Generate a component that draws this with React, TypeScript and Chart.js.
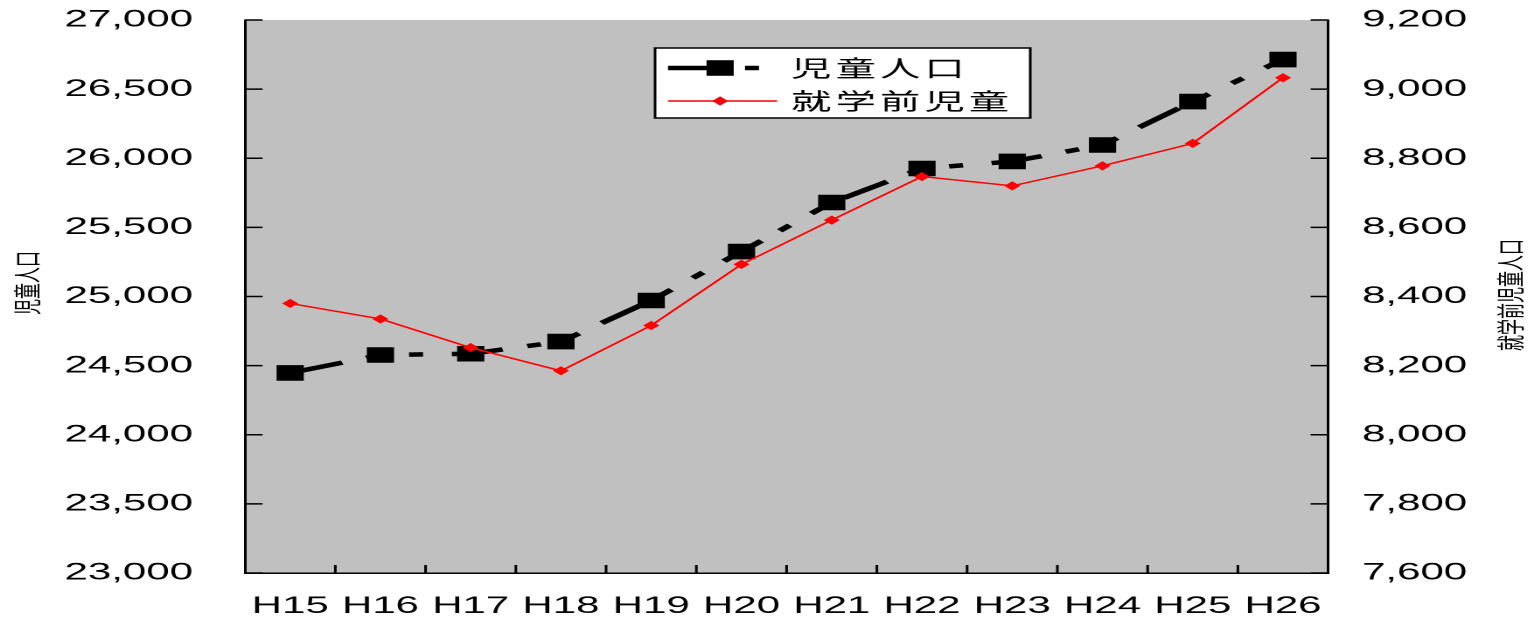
import React, { useEffect, useRef } from 'react';
import { Chart, registerables } from 'chart.js';

Chart.register(...registerables);

// 年度ラベル
const years = ['H15', 'H16', 'H17', 'H18', 'H19', 'H20', 'H21', 'H22', 'H23', 'H24', 'H25', 'H26'];
// 児童人口（左軸）
const childPopulation = [24447, 24577, 24586, 24674, 24971, 25325, 25680, 25926, 25977, 26096, 26410, 26714];
// 就学前児童（右軸）
const preschoolChildren = [8380, 8335, 8252, 8185, 8316, 8493, 8621, 8747, 8720, 8778, 8843, 9033];

const seriesNames = ['児童人口', '就学前児童'];
const leftTitle = '児童人口';
const rightTitle = '就学前児童人口';

const leftRange = [23000, 27000, 500];
const rightRange = [7600, 9200, 200];

// The chart is drawn on a narrow canvas and stretched horizontally.
const CANVAS_W = 877;
const CANVAS_H = 618;
const STRETCH = 1534 / CANVAS_W;

const PLOT_TOP = 20;
const PLOT_BOTTOM = 573;

const LATIN = "'Liberation Sans', Arial, sans-serif";
const CJK = "'Noto Sans CJK JP', 'Noto Sans CJK SC', sans-serif";

const longDashDotDot = [29.5, 14.5, 8, 17, 8, 16.5];

const fmt = (v: number) => Number(v).toLocaleString('en-US');

const decorations = {
  id: 'decorations',
  beforeDraw(chart: any) {
    const { ctx, chartArea: a } = chart;
    ctx.save();
    ctx.fillStyle = '#c0c0c0';
    ctx.fillRect(a.left, a.top, a.right - a.left, a.bottom - a.top);
    ctx.restore();
  },
  beforeDatasetsDraw(chart: any) {
    const { ctx, chartArea: a, scales } = chart;
    ctx.save();
    ctx.strokeStyle = '#000';
    ctx.lineWidth = 1.5;
    ctx.beginPath();
    // inward tick marks on the value axes
    scales.yLeft.ticks.forEach((t: any) => {
      const y = scales.yLeft.getPixelForValue(t.value);
      ctx.moveTo(a.left, y);
      ctx.lineTo(a.left + 10, y);
    });
    scales.yRight.ticks.forEach((t: any) => {
      const y = scales.yRight.getPixelForValue(t.value);
      ctx.moveTo(a.right, y);
      ctx.lineTo(a.right - 10, y);
    });
    // category boundary ticks on the x axis
    const x = scales.x;
    for (let i = 1; i < years.length; i++) {
      const px = (x.getPixelForValue(i - 1) + x.getPixelForValue(i)) / 2;
      ctx.moveTo(px, a.bottom);
      ctx.lineTo(px, a.bottom - 8);
    }
    ctx.stroke();
    ctx.restore();
  },
  afterDraw(chart: any) {
    const { ctx } = chart;
    const ds = chart.data.datasets;

    // axis titles, read bottom to top
    const drawTitle = (text: string, cx: number, cy: number) => {
      ctx.save();
      ctx.fillStyle = '#000';
      ctx.font = `16px ${CJK}`;
      ctx.textAlign = 'center';
      ctx.textBaseline = 'middle';
      ctx.translate(cx, cy);
      ctx.rotate(-Math.PI / 2);
      ctx.fillText(text, 0, 0);
      ctx.restore();
    };
    drawTitle(leftTitle, 15.2, 283);
    drawTitle(rightTitle, 863.6, 295);

    // legend box
    const box = { left: 374.5, top: 48, right: 589, bottom: 118 };
    ctx.save();
    ctx.fillStyle = '#fff';
    ctx.fillRect(box.left, box.top, box.right - box.left, box.bottom - box.top);
    ctx.strokeStyle = '#000';
    ctx.lineWidth = 1.5;
    ctx.strokeRect(box.left, box.top, box.right - box.left, box.bottom - box.top);

    const rows = [68, 101];
    const markerX = 411.7;
    const textX = 452.3;
    ds.forEach((d: any, i: number) => {
      const y = rows[i];
      ctx.save();
      ctx.strokeStyle = d.borderColor;
      ctx.lineWidth = d.borderWidth;
      ctx.setLineDash(d.borderDash || []);
      ctx.beginPath();
      ctx.moveTo(381.9, y);
      ctx.lineTo(i === 0 ? 436.2 : 444.3, y);
      ctx.stroke();
      ctx.restore();

      ctx.fillStyle = d.pointBackgroundColor;
      ctx.beginPath();
      if (d.pointStyle === 'rect') {
        const s = Math.SQRT1_2 * d.pointRadius;
        ctx.rect(markerX - s, y - s, 2 * s, 2 * s);
      } else {
        const r = d.pointRadius;
        ctx.moveTo(markerX, y - r);
        ctx.lineTo(markerX + r, y);
        ctx.lineTo(markerX, y + r);
        ctx.lineTo(markerX - r, y);
        ctx.closePath();
      }
      ctx.fill();

      ctx.fillStyle = '#000';
      ctx.font = `23px ${CJK}`;
      ctx.textAlign = 'left';
      ctx.textBaseline = 'middle';
      Array.from(d.label as string).forEach((ch, k) => {
        ctx.fillText(ch, textX + k * 25.4, y);
      });
    });
    ctx.restore();
  },
};

export default function App() {
  const canvasRef = useRef<HTMLCanvasElement | null>(null);

  useEffect(() => {
    const canvas = canvasRef.current;
    if (!canvas) return;
    const chart = new Chart(canvas, {
      type: 'line',
      data: {
        labels: years,
        datasets: [
          {
            label: seriesNames[0],
            data: childPopulation,
            yAxisID: 'yLeft',
            order: 1,
            borderColor: '#000',
            borderWidth: 4.5,
            borderDash: longDashDotDot,
            borderDashOffset: 91.5,
            borderCapStyle: 'butt',
            tension: 0,
            pointStyle: 'rect',
            pointRadius: 11,
            pointBorderWidth: 0,
            pointBackgroundColor: '#000',
            pointBorderColor: '#000',
          },
          {
            label: seriesNames[1],
            data: preschoolChildren,
            yAxisID: 'yRight',
            order: 0,
            borderColor: '#ff0000',
            borderWidth: 1.5,
            tension: 0,
            pointStyle: 'rectRot',
            pointRadius: 4.6,
            pointBorderWidth: 0,
            pointBackgroundColor: '#ff0000',
            pointBorderColor: '#ff0000',
          },
        ],
      },
      options: {
        animation: false,
        responsive: false,
        devicePixelRatio: 2,
        layout: { padding: 0, autoPadding: false } as any,
        plugins: {
          legend: { display: false },
          tooltip: { enabled: false },
        },
        scales: {
          x: {
            type: 'category',
            offset: true,
            grid: { display: false, drawTicks: false, tickLength: 0, offset: true },
            border: { display: true, color: '#000', width: 1.5 },
            ticks: {
              color: '#000',
              font: { family: LATIN, size: 24 },
              padding: 19,
              maxRotation: 0,
              autoSkip: false,
            },
            afterFit: (s: any) => {
              s.height = CANVAS_H - PLOT_BOTTOM;
            },
          },
          yLeft: {
            type: 'linear',
            position: 'left',
            min: leftRange[0],
            max: leftRange[1],
            grid: { display: false, drawTicks: false, tickLength: 0 },
            border: { display: true, color: '#000', width: 1.5 },
            ticks: {
              stepSize: leftRange[2],
              color: '#000',
              font: { family: LATIN, size: 24 },
              padding: 29.8,
              callback: (v: any) => fmt(v),
            },
            afterFit: (s: any) => {
              s.width = 140.1;
              s.paddingTop = PLOT_TOP;
              s.paddingBottom = 0;
            },
          },
          yRight: {
            type: 'linear',
            position: 'right',
            min: rightRange[0],
            max: rightRange[1],
            grid: { display: false, drawTicks: false, tickLength: 0 },
            border: { display: true, color: '#000', width: 1.5 },
            ticks: {
              stepSize: rightRange[2],
              color: '#000',
              font: { family: LATIN, size: 24 },
              padding: 19.4,
              callback: (v: any) => fmt(v),
            },
            afterFit: (s: any) => {
              s.width = CANVAS_W - 759.3;
              s.paddingTop = PLOT_TOP;
              s.paddingBottom = 0;
            },
          },
        },
      },
      plugins: [decorations],
    } as any);
    return () => chart.destroy();
  }, []);

  return (
    <div
      style={{
        position: 'fixed',
        left: 0,
        top: 0,
        width: 1534,
        height: 618,
        overflow: 'hidden',
        background: '#fff',
      }}
    >
      <div
        style={{
          width: CANVAS_W,
          height: CANVAS_H,
          transform: `scaleX(${STRETCH})`,
          transformOrigin: '0 0',
        }}
      >
        <canvas
          ref={canvasRef}
          width={CANVAS_W}
          height={CANVAS_H}
          style={{ width: CANVAS_W, height: CANVAS_H, display: 'block' }}
        />
      </div>
    </div>
  );
}
